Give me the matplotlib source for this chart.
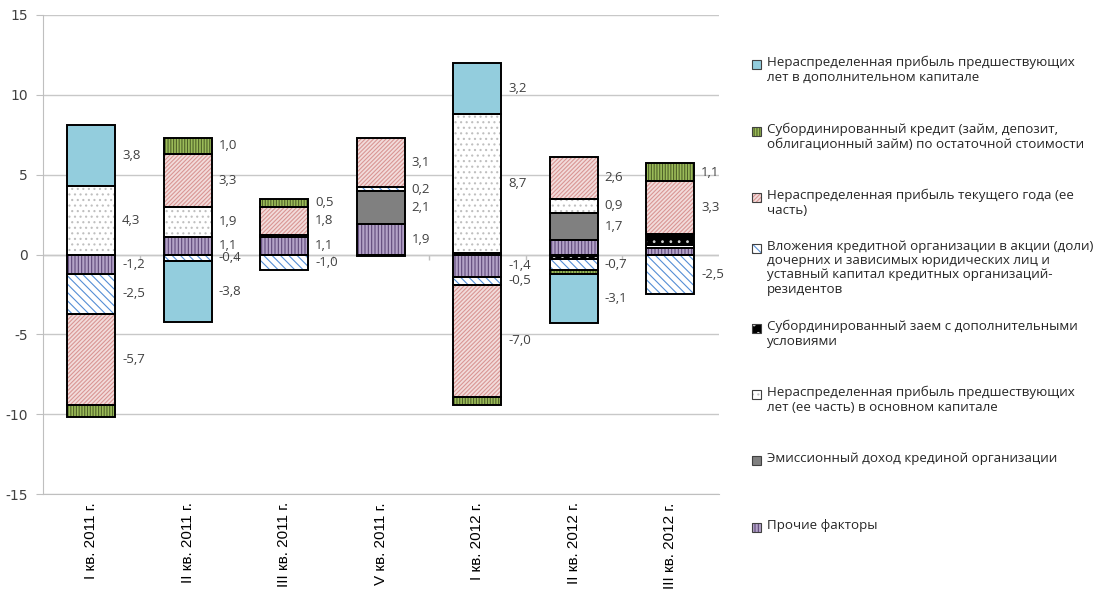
import matplotlib
matplotlib.use('Agg')
import matplotlib.pyplot as plt
from matplotlib.patches import Rectangle

plt.rcParams['hatch.linewidth'] = 0.8
plt.rcParams['axes.unicode_minus'] = False

quarters = ['I кв. 2011 г.', 'II кв. 2011 г.', 'III кв. 2011 г.', 'V кв. 2011 г.',
            'I кв. 2012 г.', 'II кв. 2012 г.', 'III кв. 2012 г.']

# Факторы в порядке наложения (снизу вверх)
prochie = [-1.2, 1.1, 1.1, 1.9, -1.4, 0.9, 0.4]
emission = [0.0, 0.0, 0.0, 2.1, 0.1, 1.7, 0.0]
osn_kap = [4.3, 1.9, 0.0, 0.0, 8.7, 0.9, 0.2]
sub_zaem = [0.0, 0.0, 0.1, 0.0, 0.0, -0.3, 0.7]
vlozh = [-2.5, -0.4, -1.0, 0.2, -0.5, -0.7, -2.5]
tek_god = [-5.7, 3.3, 1.8, 3.1, -7.0, 2.6, 3.3]
sub_kredit = [-0.8, 1.0, 0.5, -0.1, -0.5, -0.2, 1.1]
dop_kap = [3.8, -3.8, 0.0, 0.0, 3.2, -3.1, 0.0]

names = [
    'Прочие факторы',
    'Эмиссионный доход крединой организации',
    'Нераспределенная прибыль предшествующих\nлет (ее часть) в основном капитале',
    'Субординированный заем с дополнительными\nусловиями',
    'Вложения кредитной организации в акции (доли)\nдочерних и зависимых юридических лиц и\n'
    'уставный капитал кредитных организаций-\nрезидентов',
    'Нераспределенная прибыль текущего года (ее\nчасть)',
    'Субординированный кредит (займ, депозит,\nоблигационный займ) по остаточной стоимости',
    'Нераспределенная прибыль предшествующих\nлет в дополнительном капитале',
]
series = [prochie, emission, osn_kap, sub_zaem, vlozh, tek_god, sub_kredit, dop_kap]

# (заливка, штриховка, цвет штриховки)
styles = [
    ('#B3A2C7', '|||||', '#5F497A'),
    ('#808080', None, '#808080'),
    ('white', '...', '#BFBFBF'),
    ('black', '..', '#D0D0D0'),
    ('white', '\\\\\\\\', '#558ED5'),
    ('#F2DCDB', '////////', '#D99694'),
    ('#9BBB59', '||||||', '#4F6228'),
    ('#93CDDD', None, '#93CDDD'),
]

# подписи, которые на диаграмме не выводятся: (ряд, квартал)
no_label = {(0, 5), (0, 6), (1, 4), (2, 6), (3, 2), (3, 5), (3, 6),
            (6, 0), (6, 3), (6, 4), (6, 5)}

fig = plt.figure(figsize=(11.02, 5.90), dpi=100)
ax = fig.add_axes([43 / 1102, 1 - 494 / 590, (718.5 - 43) / 1102, (494 - 15) / 590])

x = range(len(quarters))
width = 0.5
pos_base = [0.0] * len(quarters)
neg_base = [0.0] * len(quarters)

for si, vals in enumerate(series):
    face, hatch, hc = styles[si]
    for i, v in enumerate(vals):
        if v == 0:
            continue
        if v > 0:
            bottom = pos_base[i]
            pos_base[i] += v
        else:
            bottom = neg_base[i]
            neg_base[i] += v
        ax.bar(i, v, bottom=bottom, width=width, color=face, hatch=hatch,
               edgecolor=hc, linewidth=0, zorder=3)
        ax.bar(i, v, bottom=bottom, width=width, fill=False,
               edgecolor='black', linewidth=1.4, zorder=4)
        if (si, i) not in no_label:
            txt = f'{v:.1f}'.replace('.', ',')
            ax.text(i + width / 2 + 0.07, bottom + v / 2, txt, fontsize=9.5,
                    color='#404040', va='center', ha='left', zorder=5,
                    family='Open Sans')

ax.set_xlim(-0.5, len(quarters) - 0.5)
ax.set_ylim(-15, 15)
ax.set_yticks([-15, -10, -5, 0, 5, 10, 15])
ax.yaxis.grid(True, color='#C8C8C8', linewidth=1, zorder=0)
ax.axhline(0, color='#BFBFBF', linewidth=1, zorder=1)
ax.vlines([i + 0.5 for i in range(len(quarters) - 1)], -0.35, 0,
          color='#BFBFBF', linewidth=1, zorder=1)

ax.set_xticks(list(x))
ax.set_xticklabels(quarters, rotation=90, fontsize=11, family='Liberation Sans')
ax.tick_params(axis='x', length=0, pad=6, colors='black')
ax.tick_params(axis='y', length=5, color='#BFBFBF', labelsize=10,
               labelcolor='#404040', pad=6)
for s in ['top', 'right']:
    ax.spines[s].set_visible(False)
for s in ['left', 'bottom']:
    ax.spines[s].set_color('#BFBFBF')

# легенда справа (сверху вниз в обратном порядке рядов)
legend_y = [64, 131, 197, 248, 328, 394, 460, 527]
for k, si in enumerate(reversed(range(len(series)))):
    face, hatch, hc = styles[si]
    yc = 1 - legend_y[k] / 590
    fig.patches.append(Rectangle((752 / 1102, yc - 4.5 / 590), 9 / 1102, 9 / 590,
                                 transform=fig.transFigure, facecolor=face,
                                 hatch=hatch, edgecolor=hc, linewidth=0))
    fig.patches.append(Rectangle((752 / 1102, yc - 4.5 / 590), 9 / 1102, 9 / 590,
                                 transform=fig.transFigure, fill=False,
                                 edgecolor='#404040', linewidth=0.8))
    fig.text(767 / 1102, yc + 8 / 590, names[si], fontsize=9.6, family='Open Sans',
             color='#262626', va='top', ha='left', linespacing=1.12)

fig.savefig('out.png', dpi=100)
